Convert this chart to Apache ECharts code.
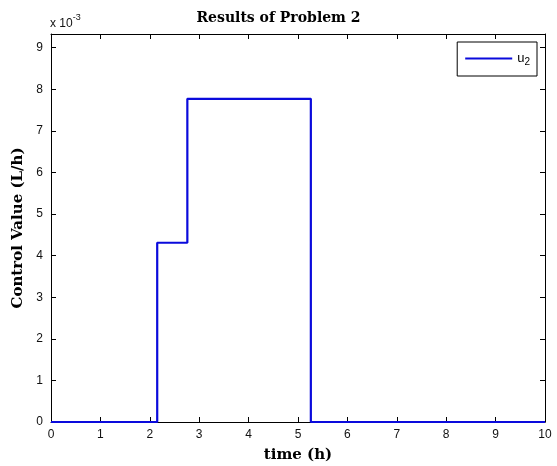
<!DOCTYPE html>
<html>
<head>
<meta charset="utf-8">
<script src="https://cdn.jsdelivr.net/npm/echarts@6/dist/echarts.min.js"></script>
<style>html,body{margin:0;padding:0;background:#fff}#c{width:557px;height:466px}</style>
</head>
<body>
<div id="c"></div>
<script>
// Data (time in h, control value in L/h)
var timePoints = [0, 2.15, 2.76, 5.26, 10];
var uValues = [0, 0.00431, 0.00777, 0, 0];
var xTicks = [0,1,2,3,4,5,6,7,8,9,10];
var yTicks = [0,1,2,3,4,5,6,7,8,9]; // ×10^-3
var seriesName = 'u2';

var data = timePoints.map(function (t, i) { return [t, uValues[i]]; });
var axFont = 'Liberation Sans, Arial, sans-serif';
var serif = 'DejaVu Serif, Liberation Serif, serif';

function tick() { return {show: true, inside: true, length: 5, lineStyle: {color: '#000', width: 1}}; }
function line() { return {show: true, onZero: false, lineStyle: {color: '#000', width: 1}}; }

var chart = echarts.init(document.getElementById('c'), null, {renderer: 'canvas'});
chart.setOption({
  animation: false,
  backgroundColor: '#fff',
  title: {
    text: 'Results of Problem 2', left: 'center', top: 6,
    textStyle: {fontFamily: serif, fontWeight: 'bold', fontSize: 14, color: '#000'}
  },
  grid: {left: 51, right: 12, top: 34, bottom: 44, containLabel: false, outerBoundsMode: 'none'},
  legend: {
    right: 20, top: 42,
    borderColor: '#000', borderWidth: 1, borderRadius: 0,
    padding: [10, 7, 9, 8],
    itemWidth: 47, itemHeight: 10, itemGap: 5,
    backgroundColor: '#fff',
    data: [{name: seriesName, icon: 'path://M0,4L47,4L47,6L0,6Z'}],
    formatter: function () { return '{a|u}{b|2}'; },
    textStyle: {
      rich: {
        a: {fontFamily: axFont, fontSize: 13, color: '#000'},
        b: {fontFamily: axFont, fontSize: 10, color: '#000', verticalAlign: 'bottom', padding: [7,0,0,0]}
      }
    }
  },
  xAxis: [{
    type: 'value', min: 0, max: 10, interval: 1, position: 'bottom',
    name: 'time (h)', nameLocation: 'middle', nameGap: 26,
    nameTextStyle: {fontFamily: serif, fontWeight: 'bold', fontSize: 15, color: '#000'},
    axisLine: line(), axisTick: tick(), splitLine: {show: false},
    axisLabel: {fontFamily: axFont, fontSize: 12, color: '#111', margin: 7}
  }, {
    type: 'value', min: 0, max: 10, interval: 1, position: 'top',
    axisLine: line(), axisTick: tick(), splitLine: {show: false},
    axisLabel: {show: false}
  }],
  yAxis: [{
    type: 'value', min: 0, max: 0.00933, interval: 0.001, position: 'left',
    name: 'Control Value (L/h)', nameLocation: 'middle', nameGap: 19,
    nameTextStyle: {fontFamily: serif, fontWeight: 'bold', fontSize: 15, color: '#000'},
    axisLine: line(), axisTick: tick(), splitLine: {show: false},
    axisLabel: {
      fontFamily: axFont, fontSize: 12, color: '#111', margin: 8,
      showMaxLabel: false,
      formatter: function (v) {
        var k = Math.round(v * 1000);
        return Math.abs(v * 1000 - k) < 1e-6 && yTicks.indexOf(k) >= 0 ? String(k) : '';
      }
    }
  }, {
    type: 'value', min: 0, max: 0.00933, interval: 0.001, position: 'right',
    axisLine: line(), axisTick: tick(), splitLine: {show: false},
    axisLabel: {show: false}
  }],
  graphic: [{
    type: 'text', left: 50, top: 13,
    style: {
      text: '{a|x 10}{b|-3}',
      rich: {
        a: {fontFamily: axFont, fontSize: 12, fill: '#111', padding: [5,0,0,0]},
        b: {fontFamily: axFont, fontSize: 9, fill: '#111', verticalAlign: 'top'}
      }
    }
  }],
  series: [{
    name: seriesName, type: 'line', step: 'end', data: data,
    xAxisIndex: 0, yAxisIndex: 0,
    showSymbol: false, symbol: 'none',
    lineStyle: {color: '#0a0adc', width: 2.2},
    itemStyle: {color: '#0a0adc'},
    z: 5
  }]
});
</script>
</body>
</html>
